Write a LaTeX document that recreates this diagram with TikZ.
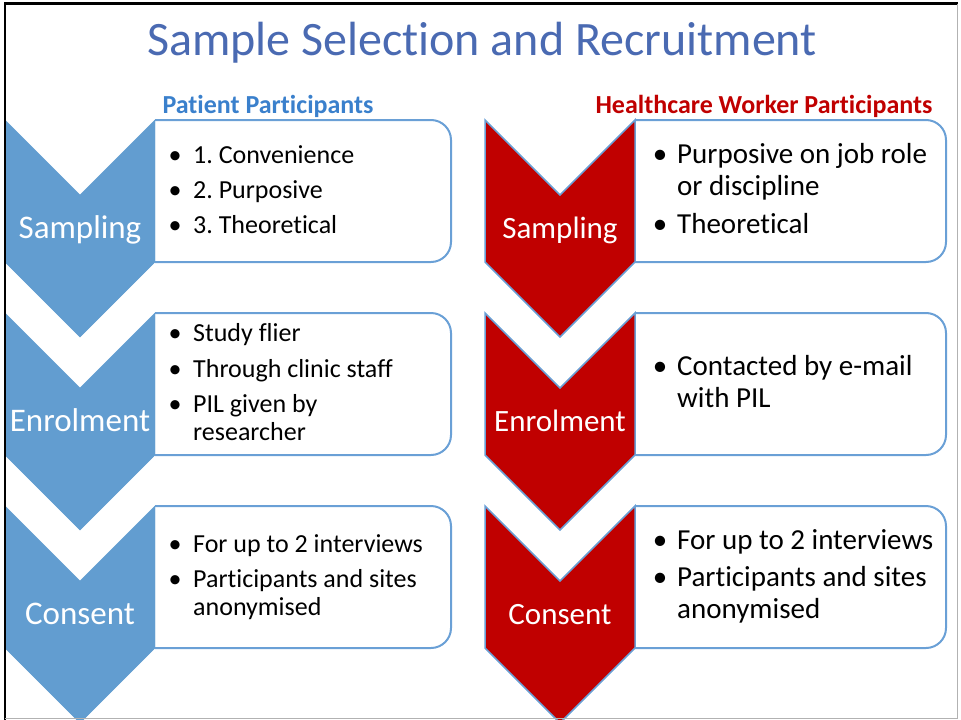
\documentclass[tikz,border=0pt]{standalone}
\usepackage{fontspec}
\setmainfont{Carlito}[Ligatures=NoCommon]
\frenchspacing
\definecolor{titleblue}{HTML}{4A6AB2}
\definecolor{subblue}{HTML}{3A80CC}
\definecolor{chevblue}{HTML}{629DD0}
\definecolor{edgeblue}{HTML}{6AA0D6}
\definecolor{hcwred}{HTML}{C00000}
\newcommand{\bul}[1][36pt]{\makebox[#1][c]{\textbullet}}
\tikzset{
  heading/.style={anchor=base, text=titleblue, font=\fontsize{48}{58}\selectfont},
  colhead/.style={anchor=base, font=\bfseries\fontsize{26}{31}\selectfont},
  patient/.style={fill=chevblue, draw=chevblue},
  worker/.style={fill=hcwred, draw=edgeblue, line width=1.5pt},
  listbox/.style={draw=edgeblue, line width=2pt, rounded corners=20pt},
  steplabel/.style={anchor=base, text=white, font=\fontsize{33}{40}\selectfont},
  leftlist/.style={anchor=base west, inner sep=0pt, align=left, font=\fontsize{26}{28}\selectfont},
  rightlist/.style={anchor=base west, inner sep=0pt, align=left, font=\fontsize{29}{32}\selectfont}
}

\begin{document}
\begin{tikzpicture}[x=1pt,y=-1pt]
\useasboundingbox (0,0) rectangle (961,720);

\node[heading] (title) at (482,55) {Sample Selection and Recruitment};
\node[colhead, text=subblue] (pathead) at (268,113) {Patient Participants};
\node[colhead, text=hcwred] (hcwhead) at (764,113) {Healthcare Worker Participants};

% patient participants
\draw[patient] (5,120) -- ++(75,75) -- ++(75,-75) -- ++(0,142) -- ++(-75,75) -- ++(-75,-75) -- cycle;
\draw[patient] (5,313) -- ++(75,75) -- ++(75,-75) -- ++(0,142) -- ++(-75,75) -- ++(-75,-75) -- cycle;
\draw[patient] (5,506) -- ++(75,75) -- ++(75,-75) -- ++(0,142) -- ++(-75,75) -- ++(-75,-75) -- cycle;
\draw[listbox] (155,120) -- (451,120) -- (451,262) -- (155,262);
\draw[listbox] (155,313) -- (451,313) -- (451,455) -- (155,455);
\draw[listbox] (155,506) -- (451,506) -- (451,648) -- (155,648);
\node[steplabel] (psamp) at (80,238) {Sampling};
\node[steplabel] (penrol) at (80,431) {Enrolment};
\node[steplabel] (pcons) at (80,624) {Consent};
% lists are anchored on their last baseline
\node[leftlist] (psamplist) at (157,233) {\bul 1. Convenience\\[7pt]\bul 2. Purposive\\[7pt]\bul 3. Theoretical};
\node[leftlist] (penrollist) at (157,440) {\bul Study flier\\[8pt]\bul Through clinic staff\\[7pt]\bul PIL given by\\\hspace*{36pt}researcher};
\node[leftlist] (pconslist) at (157,615) {\bul For up to 2 interviews\\[7pt]\bul Participants and sites\\\hspace*{36pt}anonymised};

% healthcare worker participants
\draw[worker] (485,120) -- ++(75,75) -- ++(75,-75) -- ++(0,142) -- ++(-75,75) -- ++(-75,-75) -- cycle;
\draw[worker] (485,313) -- ++(75,75) -- ++(75,-75) -- ++(0,142) -- ++(-75,75) -- ++(-75,-75) -- cycle;
\draw[worker] (485,506) -- ++(75,75) -- ++(75,-75) -- ++(0,142) -- ++(-75,75) -- ++(-75,-75) -- cycle;
\draw[listbox] (635,120) -- (946,120) -- (946,262) -- (635,262);
\draw[listbox] (635,313) -- (946,313) -- (946,455) -- (635,455);
\draw[listbox] (635,506) -- (946,506) -- (946,648) -- (635,648);
\node[steplabel, font=\fontsize{31}{38}\selectfont] (hsamp) at (560,238) {Sampling};
\node[steplabel, font=\fontsize{31}{38}\selectfont] (henrol) at (560,431) {Enrolment};
\node[steplabel, font=\fontsize{31}{38}\selectfont] (hcons) at (560,624) {Consent};
\node[rightlist] (hsamplist) at (643,233) {\bul[34pt]Purposive on job role\\\hspace*{34pt}or discipline\\[6pt]\bul[34pt]Theoretical};
\node[rightlist] (henrollist) at (643,407) {\bul[34pt]Contacted by e-mail\\\hspace*{34pt}with PIL};
\node[rightlist] (hconslist) at (643,618) {\bul[34pt]For up to 2 interviews\\[5pt]\bul[34pt]Participants and sites\\\hspace*{34pt}anonymised};

% window edge
\draw[line width=2.5pt] (5,721) -- (5,3.5) -- (958,3.5);
\draw[gray!60, line width=1pt] (957.5,3.5) -- (957.5,718.5) -- (5,718.5);
\end{tikzpicture}
\end{document}
